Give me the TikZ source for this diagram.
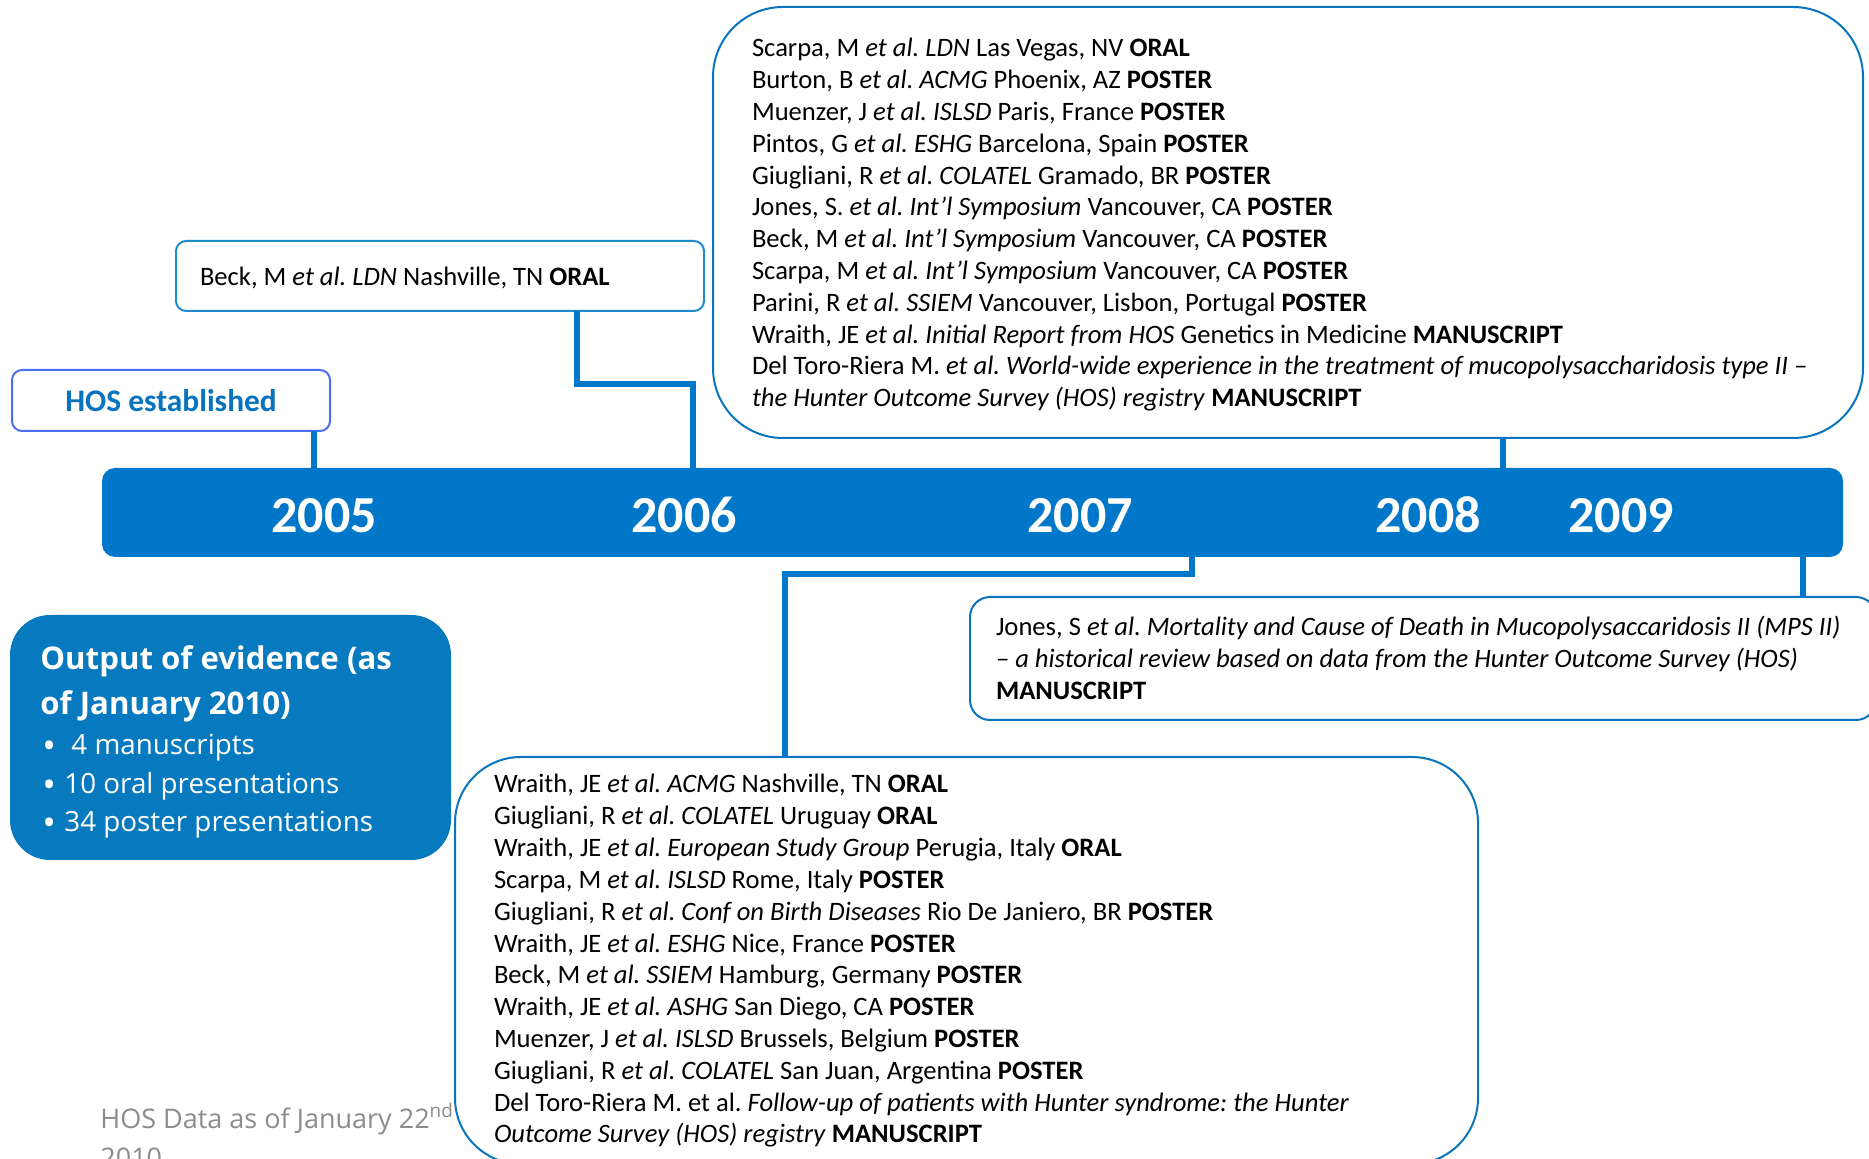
\documentclass[tikz,border=0pt]{standalone}
\usepackage{fontspec}
\setmainfont{Carlito}
\newfontfamily\osans{Open Sans}
\definecolor{barblue}{HTML}{0077C8}
\definecolor{boxblue}{HTML}{0779BF}
\definecolor{lineblue}{HTML}{0A74BE}
\definecolor{hosblue}{HTML}{4A6FF0}
\definecolor{hostext}{HTML}{0874BF}
\definecolor{beckline}{HTML}{1F8BCB}
\definecolor{footgray}{HTML}{8C8C8C}
\frenchspacing
\newcommand{\bigbul}{\raisebox{-0.12em}{\scalebox{1.3}{•}}}
\begin{document}
\frenchspacing
\begin{tikzpicture}[x=0.5pt,y=-0.5pt,
  box/.style={draw=lineblue, line width=1pt, fill=white, inner sep=0pt, outer sep=0pt},
  conn/.style={draw=barblue, line width=3pt, line join=miter},
  ln/.style={anchor=base west, inner sep=0pt, outer sep=0pt, font=\fontsize{13.3}{16}\selectfont\frenchspacing},
  yr/.style={anchor=base, inner sep=0pt, text=white, font=\fontsize{26}{30}\selectfont\bfseries},
  outtxt/.style={anchor=base west, inner sep=0pt, text=white},
]
\useasboundingbox (0,0) rectangle (1869,1159);
\clip (0,0) rectangle (1869,1159);

% footnote (behind the bottom box)
\node[anchor=base west, inner sep=0pt, text=footgray, font=\osans\fontsize{13.5}{16}\selectfont] (foot1) at (100,1128) {HOS Data as of January 22\textsuperscript{nd}};
\node[anchor=base west, inner sep=0pt, text=footgray, font=\osans\fontsize{13.5}{16}\selectfont] (foot2) at (100,1167) {2010};

% timeline bar
\node[fill=barblue, rounded corners=6.5pt, inner sep=0pt, outer sep=0pt, minimum width=870.5pt, minimum height=44.5pt] (bar) at (972.5,512.5) {};
\node[yr] (y2005) at (324,532.5) {2005};
\node[yr] (y2006) at (684,532.5) {2006};
\node[yr] (y2007) at (1080,532.5) {2007};
\node[yr] (y2008) at (1428,532.5) {2008};
\node[yr] (y2009) at (1621,532.5) {2009};

% boxes
\node[box, draw=hosblue, rounded corners=5pt, minimum width=159pt, minimum height=30.5pt] (hos) at (171,400.5) {};
\node[anchor=base, inner sep=0pt, text=hostext, font=\fontsize{15.7}{18}\selectfont\bfseries] (hostxt) at (171,412) {HOS established};

\node[box, draw=beckline, rounded corners=5pt, minimum width=264pt, minimum height=35pt] (beck) at (440,276) {};
\node[ln] (becktxt) at (200,286) {Beck, M \textit{et al. LDN} Nashville, TN \textbf{ORAL}};

\node[box, rounded corners=35pt, minimum width=575pt, minimum height=215.5pt] (top) at (1288,222.5) {};
\foreach \t [count=\i] in {
  {Scarpa, M \textit{et al. LDN} Las Vegas, NV \textbf{ORAL}},
  {Burton, B \textit{et al. ACMG} Phoenix, AZ \textbf{POSTER}},
  {Muenzer, J \textit{et al. ISLSD} Paris, France \textbf{POSTER}},
  {Pintos, G \textit{et al. ESHG} Barcelona, Spain \textbf{POSTER}},
  {Giugliani, R \textit{et al. COLATEL} Gramado, BR \textbf{POSTER}},
  {Jones, S. \textit{et al. Int’l Symposium} Vancouver, CA \textbf{POSTER}},
  {Beck, M \textit{et al. Int’l Symposium} Vancouver, CA \textbf{POSTER}},
  {Scarpa, M \textit{et al. Int’l Symposium} Vancouver, CA \textbf{POSTER}},
  {Parini, R \textit{et al. SSIEM} Vancouver, Lisbon, Portugal \textbf{POSTER}},
  {Wraith, JE \textit{et al. Initial Report from HOS} Genetics in Medicine \textbf{MANUSCRIPT}},
  {Del Toro-Riera M. \textit{et al. World-wide experience in the treatment of mucopolysaccharidosis type II –}},
  {\textit{the Hunter Outcome Survey (HOS) registry} \textbf{MANUSCRIPT}}}
  \node[ln] (toptxt\i) at (752,{57+31.8*(\i-1)}) {\t};

\node[box, rounded corners=10pt, minimum width=453pt, minimum height=61.5pt] (jones) at (1423,658.5) {};
\foreach \t [count=\i] in {
  {Jones, S \textit{et al. Mortality and Cause of Death in Mucopolysaccaridosis II (MPS II)}},
  {\textit{– a historical review based on data from the Hunter Outcome Survey (HOS)}},
  {\textbf{MANUSCRIPT}}}
  \node[ln] (jonestxt\i) at (996,{636+32*(\i-1)}) {\t};

\node[box, rounded corners=33pt, minimum width=511.5pt, minimum height=203.5pt] (bot) at (966.5,960.5) {};
\foreach \t [count=\i] in {
  {Wraith, JE \textit{et al. ACMG} Nashville, TN \textbf{ORAL}},
  {Giugliani, R \textit{et al. COLATEL} Uruguay \textbf{ORAL}},
  {Wraith, JE \textit{et al. European Study Group} Perugia, Italy \textbf{ORAL}},
  {Scarpa, M \textit{et al. ISLSD} Rome, Italy \textbf{POSTER}},
  {Giugliani, R \textit{et al. Conf on Birth Diseases} Rio De Janiero, BR \textbf{POSTER}},
  {Wraith, JE \textit{et al. ESHG} Nice, France \textbf{POSTER}},
  {Beck, M \textit{et al. SSIEM} Hamburg, Germany \textbf{POSTER}},
  {Wraith, JE \textit{et al. ASHG} San Diego, CA \textbf{POSTER}},
  {Muenzer, J \textit{et al. ISLSD} Brussels, Belgium \textbf{POSTER}},
  {Giugliani, R \textit{et al. COLATEL} San Juan, Argentina \textbf{POSTER}},
  {Del Toro-Riera M. et al. \textit{Follow-up of patients with Hunter syndrome: the Hunter}},
  {\textit{Outcome Survey (HOS) registry} \textbf{MANUSCRIPT}}}
  \node[ln] (bottxt\i) at (494,{793+31.8*(\i-1)}) {\t};

% output of evidence
\node[fill=boxblue, rounded corners=20pt, inner sep=0pt, outer sep=0pt, minimum width=220.5pt, minimum height=122.5pt] (out) at (230.5,737.5) {};
\node[outtxt, font=\osans\bfseries\fontsize{15.6}{18}\selectfont] (outt1) at (40,669.5) {Output of evidence (as};
\node[outtxt, font=\osans\bfseries\fontsize{15.6}{18}\selectfont] (outt2) at (40,715) {of January 2010)};
\node[outtxt, font=\osans\fontsize{13.9}{18}\selectfont] (outb1) at (42,755) {\makebox[14.5pt][l]{\bigbul}4 manuscripts};
\node[outtxt, font=\osans\fontsize{13.9}{18}\selectfont] (outb2) at (42,794) {\makebox[11pt][l]{\bigbul}10 oral presentations};
\node[outtxt, font=\osans\fontsize{13.9}{18}\selectfont] (outb3) at (42,832) {\makebox[11pt][l]{\bigbul}34 poster presentations};

% connectors
\coordinate (h1) at (314,0);
\draw[conn] (hos.south -| h1) -- (bar.north -| h1);
\coordinate (k1) at (577,384);
\coordinate (k2) at (693,384);
\draw[conn] (beck.south -| k1) -- (k1) -- (k2) -- (bar.north -| k2);
\coordinate (t1) at (1503,0);
\draw[conn] (top.south -| t1) -- (bar.north -| t1);
\coordinate (m1) at (1192,574);
\coordinate (m2) at (785,574);
\draw[conn] (bar.south -| m1) -- (m1) -- (m2) -- (bot.north -| m2);
\coordinate (j1) at (1803,0);
\draw[conn] (bar.south -| j1) -- (jones.north -| j1);
\end{tikzpicture}
\end{document}
